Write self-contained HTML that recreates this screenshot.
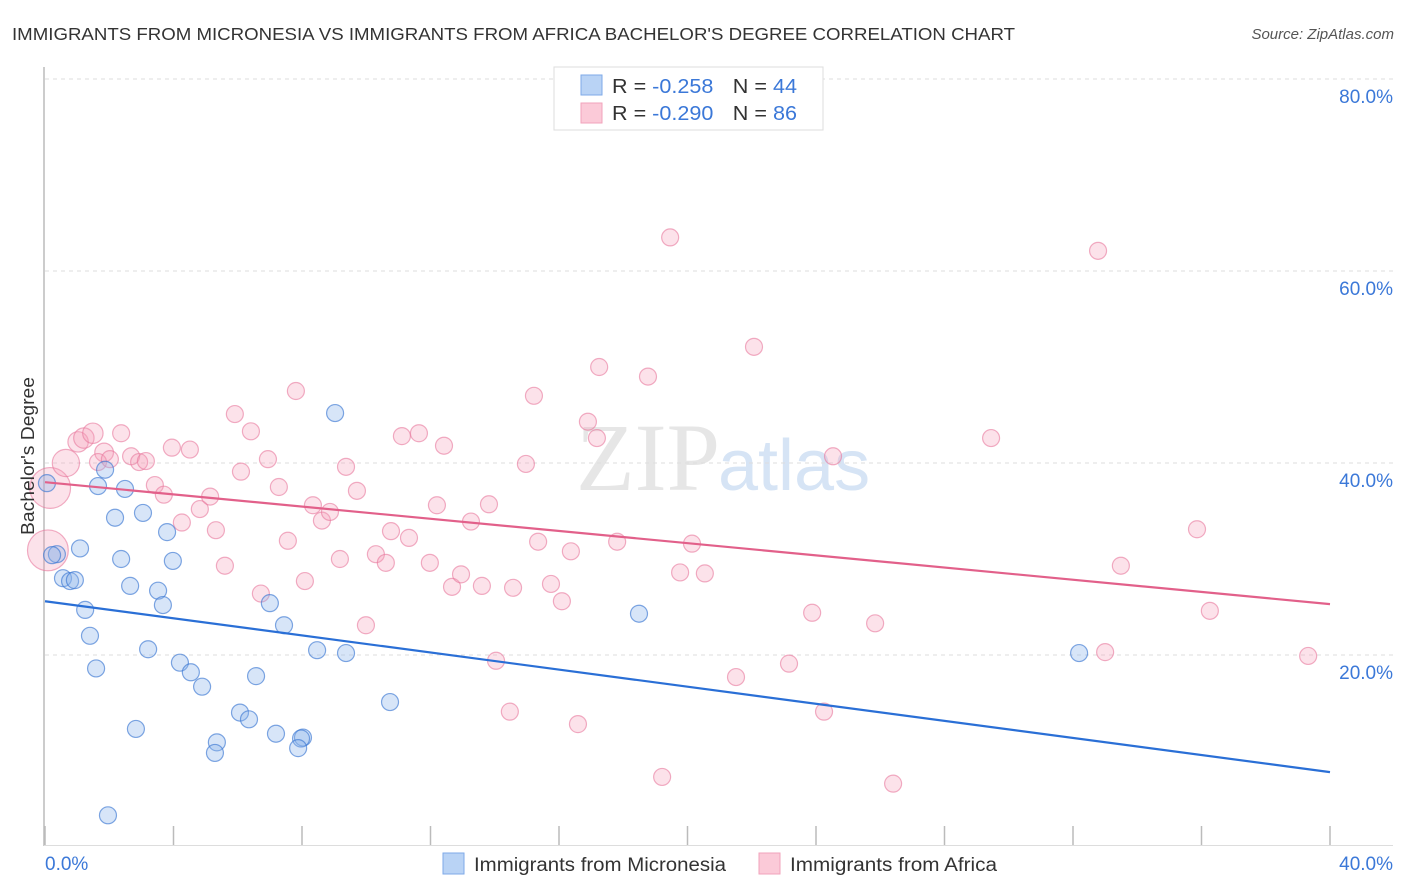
<!DOCTYPE html>
<html><head><meta charset="utf-8"><style>
body{margin:0;background:#fff;font-family:"Liberation Sans",sans-serif}
svg{display:block}
</style></head><body>
<svg id="chart" width="1406" height="892" xmlns="http://www.w3.org/2000/svg">
<text x="12" y="40" font-size="17.5" fill="#333" textLength="1003" lengthAdjust="spacingAndGlyphs">IMMIGRANTS FROM MICRONESIA VS IMMIGRANTS FROM AFRICA BACHELOR'S DEGREE CORRELATION CHART</text>
<text x="1394" y="39" font-size="15" fill="#555" font-style="italic" text-anchor="end">Source: ZipAtlas.com</text>
<text x="720" y="490" font-size="96" fill="#e6e6e6" font-family="Liberation Serif,serif" text-anchor="end">ZIP</text>
<text x="718" y="490" font-size="72" fill="#d6e4f5">atlas</text>
<g id="grid"></g>
<g id="marks"></g>
<text transform="translate(34,456) rotate(-90)" font-size="18" fill="#333" text-anchor="middle" textLength="158" lengthAdjust="spacingAndGlyphs">Bachelor's Degree</text>
<rect x="554" y="67" width="269" height="63" fill="#fff" stroke="#ddd"/>
<rect x="581" y="75" width="21" height="20" fill="#b9d3f5" stroke="#7eaae8"/>
<rect x="581" y="103" width="21" height="20" fill="#fbcad8" stroke="#f1a3bb"/>
<text x="612" y="93" font-size="20" fill="#333" textLength="185" lengthAdjust="spacingAndGlyphs">R = <tspan fill="#3b78d8">-0.258</tspan><tspan dx="18">N = </tspan><tspan fill="#3b78d8">44</tspan></text>
<text x="612" y="120" font-size="20" fill="#333" textLength="185" lengthAdjust="spacingAndGlyphs">R = <tspan fill="#3b78d8">-0.290</tspan><tspan dx="18">N = </tspan><tspan fill="#3b78d8">86</tspan></text>
<rect x="443" y="853" width="21" height="21" fill="#b9d3f5" stroke="#7eaae8"/>
<text x="474" y="871" font-size="19" fill="#333" textLength="252" lengthAdjust="spacingAndGlyphs">Immigrants from Micronesia</text>
<rect x="759" y="853" width="21" height="21" fill="#fbcad8" stroke="#f1a3bb"/>
<text x="790" y="871" font-size="19" fill="#333" textLength="207" lengthAdjust="spacingAndGlyphs">Immigrants from Africa</text>
</svg>
<script>
const yTicks=[20,40,60,80];
const yTickLabels=["20.0%","40.0%","60.0%","80.0%"];
const xTickVals=[0,4,8,12,16,20,24,28,32,36,40];
const blueX=[0.06,0.37,0.22,1.09,0.56,0.78,0.93,1.25,1.40,1.59,1.87,1.65,2.49,2.18,3.05,2.37,2.65,3.52,3.67,3.80,3.98,3.21,4.20,4.54,4.89,2.83,1.96,5.35,5.29,6.07,6.35,6.57,7.00,7.44,7.19,8.03,7.97,7.88,8.47,9.37,9.03,10.74,18.49,32.19];
const blueY=[37.9,30.5,30.4,31.1,28.0,27.7,27.8,24.7,22.0,18.6,39.3,37.6,37.3,34.3,34.8,30.0,27.2,26.7,25.2,32.8,29.8,20.6,19.2,18.2,16.7,12.3,3.3,10.9,9.8,14.0,13.3,17.8,25.4,23.1,11.8,11.4,11.3,10.3,20.5,20.2,45.2,15.1,24.3,20.2];
const pinkX=[0.16,0.09,0.65,1.03,1.21,1.49,1.84,1.65,2.02,2.37,2.68,2.93,3.14,3.42,3.70,3.95,4.26,4.51,4.82,5.14,5.32,5.60,5.91,6.10,6.41,6.72,6.94,7.28,7.56,7.81,8.09,8.34,8.62,8.87,9.18,9.37,9.71,9.99,10.30,10.61,10.77,11.11,11.33,11.64,11.98,12.20,12.42,12.67,12.95,13.26,13.60,13.82,14.04,14.47,14.57,14.97,15.22,15.35,15.75,16.09,16.37,16.59,16.90,17.18,17.25,17.81,18.77,19.21,19.46,19.77,20.14,20.54,21.51,22.07,23.16,23.88,24.25,24.53,25.84,26.40,29.45,32.78,33.00,33.49,35.86,36.26,39.32];
const pinkY=[37.4,30.9,40.0,42.2,42.6,43.1,41.1,40.1,40.4,43.1,40.7,40.1,40.2,37.7,36.7,41.6,33.8,41.4,35.2,36.5,33.0,29.3,45.1,39.1,43.3,26.4,40.4,37.5,31.9,47.5,27.7,35.6,34.0,34.9,30.0,39.6,37.1,23.1,30.5,29.6,32.9,42.8,32.2,43.1,29.6,35.6,41.8,27.1,28.4,33.9,27.2,35.7,19.4,14.1,27.0,39.9,47.0,31.8,27.4,25.6,30.8,12.8,44.3,42.6,50.0,31.8,49.0,7.3,63.5,28.6,31.6,28.5,17.7,52.1,19.1,24.4,14.1,40.7,23.3,6.6,42.6,62.1,20.3,29.3,33.1,24.6,19.9];
const pinkSize=[2.4,2.4,1.6,1.2,1.2,1.2,1.1];
const blueTrend=[25.6,7.8];
const pinkTrend=[38.0,25.3];
const NS="http://www.w3.org/2000/svg";
const X=v=>45+v*32.125;
const Y=v=>847-v*9.6;
function mk(tag,attrs,parent){const e=document.createElementNS(NS,tag);for(const k in attrs)e.setAttribute(k,attrs[k]);parent.appendChild(e);return e;}
const grid=document.getElementById('grid');
const marks=document.getElementById('marks');
yTicks.forEach((t,i)=>{
  const l=mk('line',{x1:45,x2:1393,y1:Y(t),y2:Y(t),stroke:'#ddd','stroke-dasharray':'4,4'},grid);
  
  
  const tx=mk('text',{x:1393,y:Y(t)+24,'font-size':19,fill:'#3b78d8','text-anchor':'end'},grid);
  tx.textContent=yTickLabels[i];
  
  
});
const ya=mk('line',{x1:44,x2:44,y1:67,y2:846,stroke:'#bbb','stroke-width':1.5},grid);


const xa=mk('line',{x1:44,x2:1393,y1:845.5,y2:845.5,stroke:'#ddd'},grid);


xTickVals.forEach(t=>{
  const l=mk('line',{x1:X(t),x2:X(t),y1:826,y2:845,stroke:'#bbb','stroke-width':1.5},grid);
  
  
});
const xl0=mk('text',{x:45,y:870,'font-size':19,fill:'#3b78d8'},grid);xl0.textContent='0.0%';


const xl1=mk('text',{x:1393,y:870,'font-size':19,fill:'#3b78d8','text-anchor':'end'},grid);xl1.textContent='40.0%';


pinkX.forEach((v,i)=>{
  const r=8.5*(pinkSize[i]||1);
  const c=mk('circle',{cx:X(v),cy:Y(pinkY[i]),r:r,fill:'rgba(246,160,186,0.3)',stroke:'rgba(232,120,156,0.6)','stroke-width':1.2},marks);
  
  
});
blueX.forEach((v,i)=>{
  const c=mk('circle',{cx:X(v),cy:Y(blueY[i]),r:8.5,fill:'rgba(140,180,235,0.35)',stroke:'rgba(60,120,210,0.65)','stroke-width':1.2},marks);
  
  
});
const bt=mk('line',{x1:X(0),y1:Y(blueTrend[0]),x2:X(40),y2:Y(blueTrend[1]),stroke:'#2a6fd6','stroke-width':2.2},marks);


const pt=mk('line',{x1:X(0),y1:Y(pinkTrend[0]),x2:X(40),y2:Y(pinkTrend[1]),stroke:'#e2608a','stroke-width':2.2},marks);


</script>
</body></html>
